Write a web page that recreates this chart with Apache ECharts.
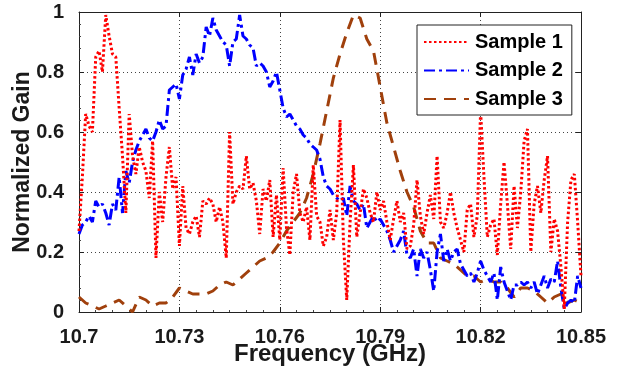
<!DOCTYPE html>
<html>
<head>
<meta charset="utf-8">
<script src="https://cdn.jsdelivr.net/npm/echarts@6/dist/echarts.min.js"></script>
<style>
html,body{margin:0;padding:0;background:#fff;}
#chart{width:622px;height:370px;}
</style>
</head>
<body>
<div id="chart"></div>
<script>
// Frequency grid (offset from 10.7 GHz, in MHz)
const baseGHz = 10.7;
const stepMHz12 = 1;   // sample 1 and 2 spacing
const stepMHz3 = 2;    // sample 3 spacing
const xTickLabels = ['10.7', '10.73', '10.76', '10.79', '10.82', '10.85'];
const yTickLabels = ['0', '0.2', '0.4', '0.6', '0.8', '1'];
const seriesNames = ['Sample 1', 'Sample 2', 'Sample 3'];

const sample1 = [0.27,0.45,0.66,0.62,0.60,0.85,0.87,0.80,0.99,0.92,
0.86,0.85,0.68,0.52,0.33,0.66,0.52,0.46,0.55,0.50,
0.47,0.38,0.57,0.18,0.40,0.30,0.45,0.55,0.41,0.45,
0.22,0.42,0.28,0.26,0.30,0.32,0.25,0.37,0.36,0.38,
0.36,0.30,0.35,0.30,0.18,0.60,0.36,0.40,0.42,0.41,
0.52,0.41,0.43,0.37,0.26,0.41,0.37,0.44,0.25,0.39,
0.24,0.48,0.28,0.19,0.40,0.46,0.33,0.30,0.35,0.24,
0.49,0.32,0.30,0.22,0.25,0.34,0.24,0.33,0.64,0.24,
0.04,0.30,0.49,0.25,0.33,0.41,0.38,0.33,0.30,0.40,
0.34,0.37,0.30,0.24,0.31,0.37,0.30,0.33,0.21,0.22,
0.29,0.44,0.32,0.26,0.33,0.39,0.31,0.52,0.30,0.28,
0.33,0.40,0.33,0.28,0.24,0.20,0.34,0.36,0.25,0.32,
0.67,0.45,0.25,0.29,0.31,0.19,0.36,0.50,0.36,0.21,
0.42,0.28,0.40,0.57,0.61,0.20,0.36,0.42,0.33,0.44,
0.52,0.20,0.31,0.27,0.15,0.01,0.30,0.44,0.46,0.30,0.12];

const sample2 = [0.26,0.29,0.30,0.32,0.30,0.37,0.35,0.36,0.33,0.29,
0.36,0.34,0.45,0.33,0.47,0.43,0.50,0.54,0.57,0.59,
0.61,0.58,0.57,0.60,0.64,0.61,0.62,0.74,0.75,0.76,
0.71,0.79,0.81,0.85,0.79,0.86,0.83,0.85,0.95,0.92,
0.98,0.94,0.92,0.90,0.89,0.82,0.90,0.91,0.99,0.92,
0.91,0.89,0.88,0.82,0.83,0.82,0.80,0.75,0.77,0.80,
0.74,0.68,0.65,0.66,0.64,0.62,0.61,0.59,0.58,0.56,
0.55,0.54,0.51,0.45,0.42,0.41,0.39,0.38,0.37,0.38,
0.32,0.42,0.37,0.36,0.34,0.36,0.28,0.30,0.32,0.30,
0.31,0.29,0.27,0.24,0.20,0.22,0.24,0.27,0.19,0.18,
0.21,0.12,0.21,0.18,0.20,0.14,0.07,0.20,0.26,0.17,
0.21,0.17,0.20,0.21,0.16,0.14,0.12,0.13,0.10,0.13,
0.17,0.14,0.12,0.10,0.13,0.04,0.15,0.10,0.07,0.04,
0.09,0.09,0.10,0.09,0.10,0.08,0.10,0.06,0.09,0.12,
0.08,0.11,0.10,0.17,0.08,0.01,0.03,0.04,0.03,0.12,0.08];

const sample3 = [0.05,0.03,0.02,0.01,0.02,0.03,0.04,0.02,0.00,0.05,
0.04,0.02,0.03,0.03,0.05,0.08,0.07,0.06,0.06,0.06,
0.07,0.09,0.10,0.09,0.11,0.13,0.15,0.17,0.18,0.20,
0.23,0.27,0.30,0.33,0.38,0.46,0.56,0.67,0.78,0.86,
0.93,0.99,0.98,0.91,0.87,0.75,0.63,0.55,0.47,0.40,
0.35,0.27,0.23,0.23,0.18,0.17,0.16,0.14,0.12,0.12,
0.10,0.11,0.10,0.10,0.08,0.05,0.08,0.08,0.07,0.05,
0.03,0.05,0.06,0.03,0.04,0.03];

function pairs(vals, step){ return vals.map((v,i)=>[i*step, v]); }

const chart = echarts.init(document.getElementById('chart'), null, {renderer:'canvas'});
const FONT = 'Liberation Sans, Arial, Helvetica, sans-serif';
const axisLbl = {color:'#1a1a1a', fontFamily:FONT, fontWeight:'bold', fontSize:20};

chart.setOption({
  animation:false,
  backgroundColor:'#fff',
  grid:{left:79, right:41, top:12, bottom:58, show:false, containLabel:false, outerBoundsMode:'none'},
  legend:{
    orient:'vertical', left:417, top:25,
    padding:[7,9,6,6], itemGap:8.5, itemWidth:45, itemHeight:18,
    backgroundColor:'#fff', borderColor:'#222', borderWidth:1, borderRadius:0,
    itemStyle:{color:'rgba(0,0,0,0)', borderWidth:0, opacity:0},
    textStyle:{color:'#000', fontFamily:FONT, fontWeight:'bold', fontSize:20, padding:[0,0,0,1]},
    data:seriesNames
  },
  xAxis:[{
    type:'value', min:0, max:150, interval:30,
    name:'Frequency (GHz)', nameLocation:'middle', nameGap:30, nameMoveOverlap:false,
    nameTextStyle:{color:'#1a1a1a', fontFamily:FONT, fontWeight:'bold', fontSize:24, verticalAlign:'top'},
    axisLine:{show:true, onZero:false, lineStyle:{color:'#222', width:1}},
    axisTick:{show:true, inside:true, length:5, lineStyle:{color:'#222'}},
    minorTick:{show:true, splitNumber:6, length:2, lineStyle:{color:'#444'}},
    axisLabel:Object.assign({margin:15, formatter:(v)=>xTickLabels[Math.round(v/30)]}, axisLbl),
    splitLine:{show:true, lineStyle:{color:'#444', width:1, type:[1,3]}}
  },{
    type:'value', min:0, max:150, interval:30, position:'top',
    axisLine:{show:true, onZero:false, lineStyle:{color:'#222', width:1}},
    axisTick:{show:true, inside:true, length:5, lineStyle:{color:'#222'}},
    axisLabel:{show:false}, splitLine:{show:false}
  }],
  yAxis:[{
    type:'value', min:0, max:1, interval:0.2,
    name:'Normalized Gain', nameLocation:'middle', nameGap:45, nameMoveOverlap:false,
    nameTextStyle:{color:'#1a1a1a', fontFamily:FONT, fontWeight:'bold', fontSize:23},
    axisLine:{show:true, onZero:false, lineStyle:{color:'#222', width:1}},
    axisTick:{show:true, inside:true, length:5, lineStyle:{color:'#222'}},
    minorTick:{show:true, splitNumber:5, length:2, lineStyle:{color:'#444'}},
    axisLabel:Object.assign({margin:15, formatter:(v)=>yTickLabels[Math.round(v/0.2)]}, axisLbl),
    splitLine:{show:true, lineStyle:{color:'#444', width:1, type:[1,3]}}
  },{
    type:'value', min:0, max:1, interval:0.2, position:'right',
    axisLine:{show:true, onZero:false, lineStyle:{color:'#222', width:1}},
    axisTick:{show:true, inside:true, length:5, lineStyle:{color:'#222'}},
    axisLabel:{show:false}, splitLine:{show:false}
  }],
  series:[
    {name:seriesNames[0], type:'line', symbol:'none', data:pairs(sample1, stepMHz12),
     itemStyle:{color:'#ff0000'},
     lineStyle:{color:'#ff0000', width:3, type:[2.5,2.5], cap:'butt'}, z:3},
    {name:seriesNames[1], type:'line', symbol:'none', data:pairs(sample2, stepMHz12),
     itemStyle:{color:'#0000ff'},
     lineStyle:{color:'#0000ff', width:3, type:[11,4,3,4], cap:'butt'}, z:2},
    {name:seriesNames[2], type:'line', symbol:'none', data:pairs(sample3, stepMHz3),
     itemStyle:{color:'#a0400c'},
     lineStyle:{color:'#a0400c', width:3, type:[12,8], cap:'butt'}, z:1}
  ]
});
</script>
</body>
</html>
